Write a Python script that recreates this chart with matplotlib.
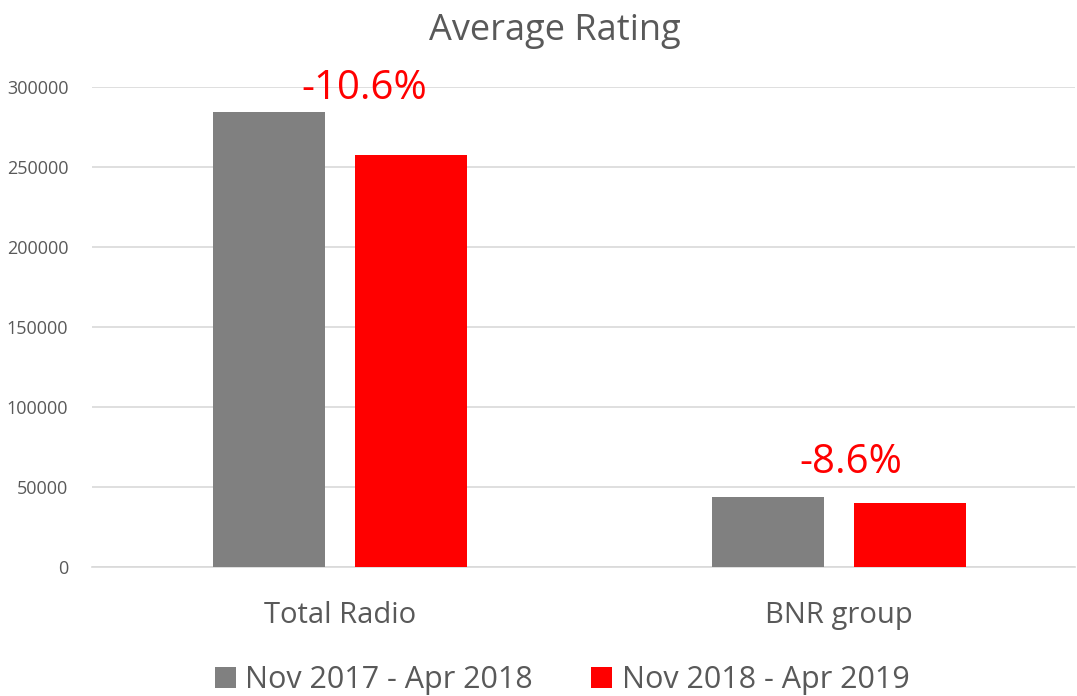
import matplotlib
matplotlib.use("Agg")
from matplotlib import pyplot as plt
import numpy as np

categories = ["Total Radio", "BNR group"]
series_names = ["Nov 2017 - Apr 2018", "Nov 2018 - Apr 2019"]
values_2018 = [284000, 43600]
values_2019 = [257100, 39800]
change_labels = ["-10.6%", "-8.6%"]

GRAY_TEXT = "#595959"
plt.rcParams['font.family'] = ['Open Sans', 'DejaVu Sans']

fig = plt.figure(figsize=(10.77, 6.96), dpi=100)
ax = fig.add_axes([92 / 1077, 1 - 566.7 / 696, 983 / 1077, 480 / 696])

x = np.arange(len(categories))
w = 0.224
off = 0.143
ax.bar(x - off, values_2018, w, color="#808080", label=series_names[0], zorder=3)
ax.bar(x + off, values_2019, w, color="#ff0000", label=series_names[1], zorder=3)

# change labels above each group
label_dx = [0.048, 0.024]
label_y = [299000, 64800]
for i, txt in enumerate(change_labels):
    ax.text(x[i] + label_dx[i], label_y[i], txt, color="#ff0000", fontsize=29,
            ha="center", va="center", zorder=4)

ax.set_xlim(-0.497, 1.473)
ax.set_ylim(0, 300000)
ax.set_yticks(range(0, 300001, 50000))
ax.set_yticklabels([str(v) for v in range(0, 300001, 50000)])
ax.set_xticks(x)
ax.set_xticklabels(categories, fontsize=21, color=GRAY_TEXT)
ax.tick_params(axis="y", labelsize=13, colors=GRAY_TEXT, length=0, pad=17)
ax.tick_params(axis="x", length=0, pad=25)
ax.grid(axis="y", color="#d9d9d9", linewidth=1.2, zorder=0)
for s in ["top", "right", "left"]:
    ax.spines[s].set_visible(False)
ax.spines["bottom"].set_color("#d9d9d9")
ax.spines["bottom"].set_linewidth(1.2)

fig.text(555 / 1077, 1 - 31 / 696, "Average Rating", ha="center", va="center",
         fontsize=26, color=GRAY_TEXT)

leg = fig.legend(loc="center", bbox_to_anchor=(562 / 1077, 1 - 680 / 696), ncol=2,
                 frameon=False, fontsize=22, handlelength=0.7, handleheight=0.7,
                 handletextpad=0.3, columnspacing=1.9)
for t in leg.get_texts():
    t.set_color(GRAY_TEXT)

fig.savefig("out.png", dpi=100)
